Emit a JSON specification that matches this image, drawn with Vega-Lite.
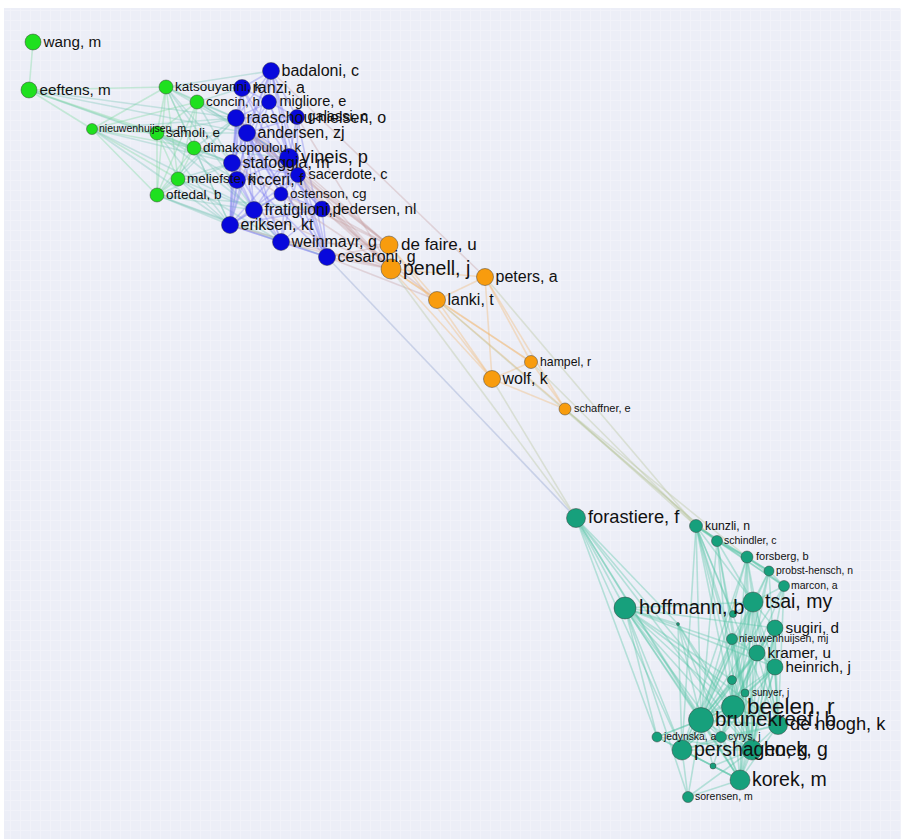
{
  "$schema": "https://vega.github.io/schema/vega-lite/v6.json",
  "width": 902,
  "height": 839,
  "autosize": {"type": "fit", "contains": "padding"},
  "padding": {"left": 4, "top": 8, "right": 2, "bottom": 0},
  "background": "white",
  "config": {"view": {"fill": "#eceef7", "stroke": null}},
  "resolve": {"scale": {"size": "independent"}},
  "datasets": {
    "nodes": [
      {"id": "wang", "label": "wang, m", "c": "g", "x": 33, "y": 42, "w": 16},
      {"id": "eeft", "label": "eeftens, m", "c": "g", "x": 29, "y": 90, "w": 16},
      {"id": "kats", "label": "katsouyanni, k", "c": "g", "x": 166, "y": 87, "w": 14},
      {"id": "conc", "label": "concin, h", "c": "g", "x": 197, "y": 102, "w": 14},
      {"id": "nieum", "label": "nieuwenhuijsen, m", "c": "g", "x": 92, "y": 129, "w": 11},
      {"id": "samo", "label": "samoli, e", "c": "g", "x": 157, "y": 133, "w": 14},
      {"id": "dima", "label": "dimakopoulou, k", "c": "g", "x": 194, "y": 148, "w": 14},
      {"id": "meli", "label": "meliefste, k", "c": "g", "x": 178, "y": 179, "w": 14},
      {"id": "ofte", "label": "oftedal, b", "c": "g", "x": 157, "y": 195, "w": 14},
      {"id": "bada", "label": "badaloni, c", "c": "b", "x": 271, "y": 71, "w": 17},
      {"id": "ranz", "label": "ranzi, a", "c": "b", "x": 242, "y": 88, "w": 17},
      {"id": "migl", "label": "migliore, e", "c": "b", "x": 269, "y": 102, "w": 15},
      {"id": "raas", "label": "raaschou-nielsen, o", "c": "b", "x": 236, "y": 118, "w": 17},
      {"id": "gala", "label": "galassi, c", "c": "b", "x": 297, "y": 117, "w": 15},
      {"id": "ande", "label": "andersen, zj", "c": "b", "x": 247, "y": 133, "w": 17},
      {"id": "stfg", "label": "stafoggia, m", "c": "b", "x": 232, "y": 163, "w": 17},
      {"id": "vine", "label": "vineis, p", "c": "b", "x": 289, "y": 158, "w": 19},
      {"id": "ricc", "label": "ricceri, f", "c": "b", "x": 237, "y": 180, "w": 17},
      {"id": "sace", "label": "sacerdote, c", "c": "b", "x": 298, "y": 175, "w": 15},
      {"id": "oste", "label": "ostenson, cg", "c": "b", "x": 281, "y": 194, "w": 14},
      {"id": "frat", "label": "fratiglioni, l", "c": "b", "x": 254, "y": 210, "w": 17},
      {"id": "pede", "label": "pedersen, nl", "c": "b", "x": 322, "y": 209, "w": 16},
      {"id": "erik", "label": "eriksen, kt", "c": "b", "x": 230, "y": 225, "w": 17},
      {"id": "wein", "label": "weinmayr, g", "c": "b", "x": 281, "y": 242, "w": 17},
      {"id": "cesa", "label": "cesaroni, g", "c": "b", "x": 327, "y": 257, "w": 17},
      {"id": "defa", "label": "de faire, u", "c": "o", "x": 389, "y": 245, "w": 18},
      {"id": "pene", "label": "penell, j", "c": "o", "x": 391, "y": 269, "w": 20},
      {"id": "pete", "label": "peters, a", "c": "o", "x": 485, "y": 277, "w": 17},
      {"id": "lank", "label": "lanki, t", "c": "o", "x": 437, "y": 300, "w": 17},
      {"id": "hamp", "label": "hampel, r", "c": "o", "x": 531, "y": 362, "w": 13},
      {"id": "wolf", "label": "wolf, k", "c": "o", "x": 492, "y": 379, "w": 17},
      {"id": "scha", "label": "schaffner, e", "c": "o", "x": 565, "y": 409, "w": 12},
      {"id": "fora", "label": "forastiere, f", "c": "t", "x": 576, "y": 518, "w": 19},
      {"id": "kunz", "label": "kunzli, n", "c": "t", "x": 696, "y": 526, "w": 13},
      {"id": "schi", "label": "schindler, c", "c": "t", "x": 717, "y": 541, "w": 11},
      {"id": "fors", "label": "forsberg, b", "c": "t", "x": 747, "y": 557, "w": 12},
      {"id": "prob", "label": "probst-hensch, n", "c": "t", "x": 769, "y": 571, "w": 10},
      {"id": "marc", "label": "marcon, a", "c": "t", "x": 784, "y": 586, "w": 11},
      {"id": "tsai", "label": "tsai, my", "c": "t", "x": 753, "y": 602, "w": 20},
      {"id": "hoff", "label": "hoffmann, b", "c": "t", "x": 625, "y": 608, "w": 22},
      {"id": "t1", "label": "", "c": "t", "x": 733, "y": 614, "w": 7},
      {"id": "t2", "label": "", "c": "t", "x": 678, "y": 624, "w": 3},
      {"id": "sugi", "label": "sugiri, d", "c": "t", "x": 775, "y": 628, "w": 16},
      {"id": "nimj", "label": "nieuwenhuijsen, mj", "c": "t", "x": 732, "y": 639, "w": 11},
      {"id": "kram", "label": "kramer, u", "c": "t", "x": 757, "y": 653, "w": 16},
      {"id": "hein", "label": "heinrich, j", "c": "t", "x": 775, "y": 667, "w": 16},
      {"id": "t3", "label": "", "c": "t", "x": 732, "y": 680, "w": 9},
      {"id": "suny", "label": "sunyer, j", "c": "t", "x": 745, "y": 693, "w": 8},
      {"id": "beel", "label": "beelen, r", "c": "t", "x": 733, "y": 707, "w": 23},
      {"id": "brun", "label": "brunekreef, b", "c": "t", "x": 701, "y": 720, "w": 25},
      {"id": "hoog", "label": "de hoogh, k", "c": "t", "x": 778, "y": 725, "w": 19},
      {"id": "jedy", "label": "jedynska, a", "c": "t", "x": 657, "y": 737, "w": 10},
      {"id": "cyry", "label": "cyrys, j", "c": "t", "x": 721, "y": 737, "w": 11},
      {"id": "pers", "label": "pershagen, g", "c": "t", "x": 682, "y": 750, "w": 20},
      {"id": "hoek", "label": "hoek, g", "c": "t", "x": 752, "y": 750, "w": 20},
      {"id": "t4", "label": "", "c": "t", "x": 713, "y": 766, "w": 6},
      {"id": "kore", "label": "korek, m", "c": "t", "x": 740, "y": 780, "w": 20},
      {"id": "sore", "label": "sorensen, m", "c": "t", "x": 688, "y": 797, "w": 11}
    ],
    "edges": [
      {"s": "wang", "t": "eeft", "g": "g"}, {"s": "kats", "t": "conc", "g": "g"}, {"s": "kats", "t": "samo", "g": "g"}, {"s": "kats", "t": "dima", "g": "g"}, {"s": "kats", "t": "meli", "g": "g"}, {"s": "kats", "t": "ofte", "g": "g"}, {"s": "conc", "t": "samo", "g": "g"}, {"s": "conc", "t": "dima", "g": "g"}, {"s": "conc", "t": "meli", "g": "g"}, {"s": "conc", "t": "ofte", "g": "g"}, {"s": "samo", "t": "dima", "g": "g"}, {"s": "samo", "t": "meli", "g": "g"}, {"s": "samo", "t": "ofte", "g": "g"}, {"s": "dima", "t": "meli", "g": "g"}, {"s": "dima", "t": "ofte", "g": "g"}, {"s": "meli", "t": "ofte", "g": "g"}, {"s": "nieum", "t": "kats", "g": "g"}, {"s": "nieum", "t": "conc", "g": "g"}, {"s": "nieum", "t": "samo", "g": "g"}, {"s": "nieum", "t": "dima", "g": "g"}, {"s": "nieum", "t": "meli", "g": "g"}, {"s": "nieum", "t": "ofte", "g": "g"}, {"s": "eeft", "t": "nieum", "g": "g"}, {"s": "eeft", "t": "kats", "g": "g"}, {"s": "eeft", "t": "samo", "g": "g"}, {"s": "eeft", "t": "dima", "g": "g"},
      {"s": "eeft", "t": "raas", "g": "gb"}, {"s": "eeft", "t": "stfg", "g": "gb"}, {"s": "eeft", "t": "ande", "g": "gb"}, {"s": "nieum", "t": "raas", "g": "gb"}, {"s": "nieum", "t": "stfg", "g": "gb"}, {"s": "nieum", "t": "erik", "g": "gb"}, {"s": "nieum", "t": "frat", "g": "gb"}, {"s": "kats", "t": "raas", "g": "gb"}, {"s": "kats", "t": "bada", "g": "gb"}, {"s": "kats", "t": "ranz", "g": "gb"}, {"s": "kats", "t": "stfg", "g": "gb"}, {"s": "kats", "t": "vine", "g": "gb"}, {"s": "kats", "t": "erik", "g": "gb"}, {"s": "kats", "t": "frat", "g": "gb"}, {"s": "conc", "t": "ranz", "g": "gb"}, {"s": "conc", "t": "raas", "g": "gb"}, {"s": "conc", "t": "ande", "g": "gb"}, {"s": "conc", "t": "vine", "g": "gb"}, {"s": "conc", "t": "stfg", "g": "gb"}, {"s": "samo", "t": "raas", "g": "gb"}, {"s": "samo", "t": "stfg", "g": "gb"}, {"s": "samo", "t": "erik", "g": "gb"}, {"s": "samo", "t": "ricc", "g": "gb"}, {"s": "samo", "t": "frat", "g": "gb"}, {"s": "samo", "t": "ande", "g": "gb"}, {"s": "dima", "t": "raas", "g": "gb"}, {"s": "dima", "t": "stfg", "g": "gb"}, {"s": "dima", "t": "vine", "g": "gb"}, {"s": "dima", "t": "erik", "g": "gb"}, {"s": "dima", "t": "wein", "g": "gb"}, {"s": "meli", "t": "raas", "g": "gb"}, {"s": "meli", "t": "stfg", "g": "gb"}, {"s": "meli", "t": "erik", "g": "gb"}, {"s": "meli", "t": "frat", "g": "gb"}, {"s": "meli", "t": "ricc", "g": "gb"}, {"s": "meli", "t": "wein", "g": "gb"}, {"s": "ofte", "t": "raas", "g": "gb"}, {"s": "ofte", "t": "stfg", "g": "gb"}, {"s": "ofte", "t": "erik", "g": "gb"}, {"s": "ofte", "t": "frat", "g": "gb"}, {"s": "ofte", "t": "wein", "g": "gb"}, {"s": "ofte", "t": "cesa", "g": "gb"}, {"s": "ofte", "t": "pede", "g": "gb"},
      {"s": "bada", "t": "ranz", "g": "b"}, {"s": "bada", "t": "migl", "g": "b"}, {"s": "bada", "t": "raas", "g": "b"}, {"s": "bada", "t": "gala", "g": "b"}, {"s": "bada", "t": "ande", "g": "b"}, {"s": "bada", "t": "stfg", "g": "b"}, {"s": "bada", "t": "vine", "g": "b"}, {"s": "bada", "t": "sace", "g": "b"}, {"s": "bada", "t": "erik", "g": "b"}, {"s": "bada", "t": "cesa", "g": "b"}, {"s": "ranz", "t": "migl", "g": "b"}, {"s": "ranz", "t": "raas", "g": "b"}, {"s": "ranz", "t": "stfg", "g": "b"}, {"s": "ranz", "t": "ande", "g": "b"}, {"s": "ranz", "t": "vine", "g": "b"}, {"s": "ranz", "t": "erik", "g": "b"}, {"s": "ranz", "t": "cesa", "g": "b"}, {"s": "migl", "t": "raas", "g": "b"}, {"s": "migl", "t": "gala", "g": "b"}, {"s": "migl", "t": "ande", "g": "b"}, {"s": "migl", "t": "vine", "g": "b"}, {"s": "migl", "t": "sace", "g": "b"}, {"s": "migl", "t": "erik", "g": "b"}, {"s": "raas", "t": "gala", "g": "b"}, {"s": "raas", "t": "ande", "g": "b"}, {"s": "raas", "t": "stfg", "g": "b"}, {"s": "raas", "t": "vine", "g": "b"}, {"s": "raas", "t": "ricc", "g": "b"}, {"s": "raas", "t": "sace", "g": "b"}, {"s": "raas", "t": "oste", "g": "b"}, {"s": "raas", "t": "frat", "g": "b"}, {"s": "raas", "t": "pede", "g": "b"}, {"s": "raas", "t": "erik", "g": "b"}, {"s": "raas", "t": "wein", "g": "b"}, {"s": "raas", "t": "cesa", "g": "b"}, {"s": "gala", "t": "ande", "g": "b"}, {"s": "gala", "t": "vine", "g": "b"}, {"s": "gala", "t": "sace", "g": "b"}, {"s": "gala", "t": "cesa", "g": "b"}, {"s": "ande", "t": "stfg", "g": "b"}, {"s": "ande", "t": "vine", "g": "b"}, {"s": "ande", "t": "ricc", "g": "b"}, {"s": "ande", "t": "sace", "g": "b"}, {"s": "ande", "t": "oste", "g": "b"}, {"s": "ande", "t": "frat", "g": "b"}, {"s": "ande", "t": "pede", "g": "b"}, {"s": "ande", "t": "erik", "g": "b"}, {"s": "ande", "t": "wein", "g": "b"}, {"s": "ande", "t": "cesa", "g": "b"}, {"s": "stfg", "t": "vine", "g": "b"}, {"s": "stfg", "t": "ricc", "g": "b"}, {"s": "stfg", "t": "sace", "g": "b"}, {"s": "stfg", "t": "frat", "g": "b"}, {"s": "stfg", "t": "erik", "g": "b"}, {"s": "stfg", "t": "wein", "g": "b"}, {"s": "stfg", "t": "cesa", "g": "b"}, {"s": "vine", "t": "ricc", "g": "b"}, {"s": "vine", "t": "sace", "g": "b"}, {"s": "vine", "t": "oste", "g": "b"}, {"s": "vine", "t": "frat", "g": "b"}, {"s": "vine", "t": "pede", "g": "b"}, {"s": "vine", "t": "erik", "g": "b"}, {"s": "vine", "t": "wein", "g": "b"}, {"s": "vine", "t": "cesa", "g": "b"}, {"s": "ricc", "t": "sace", "g": "b"}, {"s": "ricc", "t": "erik", "g": "b"}, {"s": "ricc", "t": "frat", "g": "b"}, {"s": "sace", "t": "oste", "g": "b"}, {"s": "sace", "t": "erik", "g": "b"}, {"s": "sace", "t": "wein", "g": "b"}, {"s": "sace", "t": "cesa", "g": "b"}, {"s": "oste", "t": "frat", "g": "b"}, {"s": "oste", "t": "pede", "g": "b"}, {"s": "oste", "t": "erik", "g": "b"}, {"s": "frat", "t": "pede", "g": "b"}, {"s": "frat", "t": "erik", "g": "b"}, {"s": "frat", "t": "wein", "g": "b"}, {"s": "pede", "t": "erik", "g": "b"}, {"s": "pede", "t": "wein", "g": "b"}, {"s": "pede", "t": "cesa", "g": "b"}, {"s": "erik", "t": "wein", "g": "b"}, {"s": "erik", "t": "cesa", "g": "b"}, {"s": "wein", "t": "cesa", "g": "b"},
      {"s": "pede", "t": "defa", "g": "bo"}, {"s": "pede", "t": "pene", "g": "bo"}, {"s": "pede", "t": "lank", "g": "bo"}, {"s": "cesa", "t": "defa", "g": "bo"}, {"s": "cesa", "t": "pene", "g": "bo"}, {"s": "cesa", "t": "lank", "g": "bo"}, {"s": "wein", "t": "pene", "g": "bo"}, {"s": "wein", "t": "defa", "g": "bo"}, {"s": "vine", "t": "pene", "g": "bo"}, {"s": "vine", "t": "defa", "g": "bo"}, {"s": "sace", "t": "defa", "g": "bo"}, {"s": "sace", "t": "pene", "g": "bo"}, {"s": "frat", "t": "pene", "g": "bo"}, {"s": "raas", "t": "pene", "g": "bo"}, {"s": "raas", "t": "defa", "g": "bo"}, {"s": "ande", "t": "defa", "g": "bo"}, {"s": "ande", "t": "pene", "g": "bo"}, {"s": "erik", "t": "pene", "g": "bo"}, {"s": "oste", "t": "defa", "g": "bo"}, {"s": "stfg", "t": "pene", "g": "bo"}, {"s": "gala", "t": "pene", "g": "bo"}, {"s": "bada", "t": "pete", "g": "bo"},
      {"s": "defa", "t": "pene", "g": "o"}, {"s": "defa", "t": "lank", "g": "o"}, {"s": "pene", "t": "lank", "g": "o"}, {"s": "pene", "t": "pete", "g": "o"}, {"s": "pene", "t": "wolf", "g": "o"}, {"s": "lank", "t": "wolf", "g": "o"}, {"s": "lank", "t": "hamp", "g": "o"}, {"s": "lank", "t": "pete", "g": "o"}, {"s": "pete", "t": "hamp", "g": "o"}, {"s": "pete", "t": "wolf", "g": "o"}, {"s": "pete", "t": "scha", "g": "o"}, {"s": "wolf", "t": "hamp", "g": "o"}, {"s": "wolf", "t": "scha", "g": "o"}, {"s": "hamp", "t": "scha", "g": "o"}, {"s": "lank", "t": "scha", "g": "o"}, {"s": "defa", "t": "wolf", "g": "o"}, {"s": "pene", "t": "hamp", "g": "o"},
      {"s": "scha", "t": "kunz", "g": "ot"}, {"s": "scha", "t": "schi", "g": "ot"}, {"s": "scha", "t": "fors", "g": "ot"}, {"s": "hamp", "t": "kunz", "g": "ot"}, {"s": "wolf", "t": "fora", "g": "ot"}, {"s": "pete", "t": "kunz", "g": "ot"}, {"s": "lank", "t": "schi", "g": "ot"}, {"s": "pene", "t": "fora", "g": "ot"},
      {"s": "cesa", "t": "fora", "g": "bt"},
      {"s": "kunz", "t": "schi", "g": "t"}, {"s": "kunz", "t": "fors", "g": "t"}, {"s": "kunz", "t": "prob", "g": "t"}, {"s": "kunz", "t": "marc", "g": "t"}, {"s": "kunz", "t": "tsai", "g": "t"}, {"s": "kunz", "t": "brun", "g": "t"}, {"s": "kunz", "t": "beel", "g": "t"}, {"s": "kunz", "t": "hoek", "g": "t"}, {"s": "kunz", "t": "nimj", "g": "t"}, {"s": "kunz", "t": "suny", "g": "t"}, {"s": "kunz", "t": "hoog", "g": "t"}, {"s": "kunz", "t": "pers", "g": "t"}, {"s": "kunz", "t": "t1", "g": "t"},
      {"s": "schi", "t": "fors", "g": "t"}, {"s": "schi", "t": "prob", "g": "t"}, {"s": "schi", "t": "tsai", "g": "t"}, {"s": "schi", "t": "beel", "g": "t"}, {"s": "schi", "t": "brun", "g": "t"}, {"s": "schi", "t": "hoek", "g": "t"}, {"s": "schi", "t": "marc", "g": "t"}, {"s": "schi", "t": "suny", "g": "t"},
      {"s": "fors", "t": "prob", "g": "t"}, {"s": "fors", "t": "marc", "g": "t"}, {"s": "fors", "t": "tsai", "g": "t"}, {"s": "fors", "t": "beel", "g": "t"}, {"s": "fors", "t": "brun", "g": "t"}, {"s": "fors", "t": "hoek", "g": "t"}, {"s": "fors", "t": "pers", "g": "t"}, {"s": "fors", "t": "hoog", "g": "t"}, {"s": "fors", "t": "kore", "g": "t"},
      {"s": "prob", "t": "marc", "g": "t"}, {"s": "prob", "t": "tsai", "g": "t"}, {"s": "prob", "t": "beel", "g": "t"}, {"s": "prob", "t": "brun", "g": "t"}, {"s": "prob", "t": "suny", "g": "t"}, {"s": "prob", "t": "hoog", "g": "t"},
      {"s": "marc", "t": "tsai", "g": "t"}, {"s": "marc", "t": "beel", "g": "t"}, {"s": "marc", "t": "brun", "g": "t"}, {"s": "marc", "t": "hoek", "g": "t"}, {"s": "marc", "t": "hoog", "g": "t"},
      {"s": "tsai", "t": "sugi", "g": "t"}, {"s": "tsai", "t": "kram", "g": "t"}, {"s": "tsai", "t": "hein", "g": "t"}, {"s": "tsai", "t": "beel", "g": "t"}, {"s": "tsai", "t": "brun", "g": "t"}, {"s": "tsai", "t": "hoog", "g": "t"}, {"s": "tsai", "t": "hoek", "g": "t"}, {"s": "tsai", "t": "pers", "g": "t"}, {"s": "tsai", "t": "kore", "g": "t"}, {"s": "tsai", "t": "cyry", "g": "t"}, {"s": "tsai", "t": "t1", "g": "t"}, {"s": "tsai", "t": "nimj", "g": "t"}, {"s": "tsai", "t": "t3", "g": "t"},
      {"s": "hoff", "t": "tsai", "g": "t"}, {"s": "hoff", "t": "sugi", "g": "t"}, {"s": "hoff", "t": "kram", "g": "t"}, {"s": "hoff", "t": "hein", "g": "t"}, {"s": "hoff", "t": "beel", "g": "t"}, {"s": "hoff", "t": "brun", "g": "t"}, {"s": "hoff", "t": "hoog", "g": "t"}, {"s": "hoff", "t": "hoek", "g": "t"}, {"s": "hoff", "t": "pers", "g": "t"}, {"s": "hoff", "t": "kore", "g": "t"}, {"s": "hoff", "t": "t2", "g": "t"}, {"s": "hoff", "t": "jedy", "g": "t"}, {"s": "hoff", "t": "cyry", "g": "t"}, {"s": "hoff", "t": "fora", "g": "t"}, {"s": "hoff", "t": "sore", "g": "t"}, {"s": "hoff", "t": "t3", "g": "t"},
      {"s": "sugi", "t": "kram", "g": "t"}, {"s": "sugi", "t": "hein", "g": "t"}, {"s": "sugi", "t": "beel", "g": "t"}, {"s": "sugi", "t": "brun", "g": "t"}, {"s": "sugi", "t": "hoog", "g": "t"}, {"s": "sugi", "t": "hoek", "g": "t"}, {"s": "sugi", "t": "pers", "g": "t"}, {"s": "sugi", "t": "kore", "g": "t"},
      {"s": "nimj", "t": "beel", "g": "t"}, {"s": "nimj", "t": "brun", "g": "t"}, {"s": "nimj", "t": "hoek", "g": "t"}, {"s": "nimj", "t": "pers", "g": "t"}, {"s": "nimj", "t": "kram", "g": "t"}, {"s": "nimj", "t": "suny", "g": "t"},
      {"s": "kram", "t": "hein", "g": "t"}, {"s": "kram", "t": "beel", "g": "t"}, {"s": "kram", "t": "brun", "g": "t"}, {"s": "kram", "t": "hoog", "g": "t"}, {"s": "kram", "t": "hoek", "g": "t"}, {"s": "kram", "t": "pers", "g": "t"}, {"s": "kram", "t": "kore", "g": "t"}, {"s": "kram", "t": "cyry", "g": "t"},
      {"s": "hein", "t": "beel", "g": "t"}, {"s": "hein", "t": "brun", "g": "t"}, {"s": "hein", "t": "hoog", "g": "t"}, {"s": "hein", "t": "hoek", "g": "t"}, {"s": "hein", "t": "pers", "g": "t"}, {"s": "hein", "t": "kore", "g": "t"}, {"s": "hein", "t": "cyry", "g": "t"},
      {"s": "t3", "t": "beel", "g": "t"}, {"s": "t3", "t": "brun", "g": "t"}, {"s": "t3", "t": "hoek", "g": "t"},
      {"s": "suny", "t": "beel", "g": "t"}, {"s": "suny", "t": "brun", "g": "t"}, {"s": "suny", "t": "hoek", "g": "t"}, {"s": "suny", "t": "hoog", "g": "t"},
      {"s": "beel", "t": "brun", "g": "t"}, {"s": "beel", "t": "hoog", "g": "t"}, {"s": "beel", "t": "hoek", "g": "t"}, {"s": "beel", "t": "pers", "g": "t"}, {"s": "beel", "t": "kore", "g": "t"}, {"s": "beel", "t": "cyry", "g": "t"}, {"s": "beel", "t": "jedy", "g": "t"}, {"s": "beel", "t": "t4", "g": "t"},
      {"s": "brun", "t": "hoog", "g": "t"}, {"s": "brun", "t": "hoek", "g": "t"}, {"s": "brun", "t": "pers", "g": "t"}, {"s": "brun", "t": "kore", "g": "t"}, {"s": "brun", "t": "cyry", "g": "t"}, {"s": "brun", "t": "jedy", "g": "t"}, {"s": "brun", "t": "sore", "g": "t"}, {"s": "brun", "t": "t4", "g": "t"},
      {"s": "hoog", "t": "hoek", "g": "t"}, {"s": "hoog", "t": "pers", "g": "t"}, {"s": "hoog", "t": "kore", "g": "t"}, {"s": "hoog", "t": "cyry", "g": "t"},
      {"s": "hoek", "t": "pers", "g": "t"}, {"s": "hoek", "t": "kore", "g": "t"}, {"s": "hoek", "t": "cyry", "g": "t"}, {"s": "hoek", "t": "sore", "g": "t"}, {"s": "hoek", "t": "t4", "g": "t"},
      {"s": "pers", "t": "kore", "g": "t"}, {"s": "pers", "t": "cyry", "g": "t"}, {"s": "pers", "t": "jedy", "g": "t"}, {"s": "pers", "t": "sore", "g": "t"}, {"s": "pers", "t": "t4", "g": "t"},
      {"s": "kore", "t": "cyry", "g": "t"}, {"s": "kore", "t": "sore", "g": "t"}, {"s": "kore", "t": "t4", "g": "t"},
      {"s": "fora", "t": "beel", "g": "t"}, {"s": "fora", "t": "brun", "g": "t"}, {"s": "fora", "t": "hoek", "g": "t"}, {"s": "fora", "t": "pers", "g": "t"}, {"s": "fora", "t": "kore", "g": "t"}, {"s": "fora", "t": "jedy", "g": "t"}, {"s": "fora", "t": "t2", "g": "t"},
      {"s": "t2", "t": "beel", "g": "t"}, {"s": "t2", "t": "brun", "g": "t"}, {"s": "t2", "t": "pers", "g": "t"}, {"s": "t2", "t": "hoek", "g": "t"}, {"s": "t2", "t": "kore", "g": "t"},
      {"s": "jedy", "t": "hoek", "g": "t"}, {"s": "jedy", "t": "kore", "g": "t"}
    ]
  },
  "layer": [
    {
      "data": {"name": "edges"},
      "transform": [
        {"lookup": "s", "from": {"data": {"name": "nodes"}, "key": "id", "fields": ["x", "y"]}, "as": ["x1", "y1"]},
        {"lookup": "t", "from": {"data": {"name": "nodes"}, "key": "id", "fields": ["x", "y"]}, "as": ["xb", "yb"]}
      ],
      "mark": {"type": "rule", "strokeWidth": 1.6, "opacity": 0.38},
      "encoding": {
        "x": {"field": "x1", "type": "quantitative", "scale": {"domain": [4, 900], "nice": false, "zero": false}, "axis": {"grid": true, "gridColor": "#f1f2f9", "gridWidth": 1, "tickCount": 75, "labels": false, "ticks": false, "domain": false, "title": null}},
        "y": {"field": "y1", "type": "quantitative", "scale": {"domain": [8, 839], "nice": false, "zero": false, "reverse": true}, "axis": {"grid": true, "gridColor": "#f1f2f9", "gridWidth": 1, "tickCount": 70, "labels": false, "ticks": false, "domain": false, "title": null}},
        "x2": {"field": "xb"},
        "y2": {"field": "yb"},
        "color": {"field": "g", "type": "nominal", "legend": null, "scale": {"domain": ["g", "gb", "b", "bo", "o", "ot", "bt", "t"], "range": ["#7ed9a0", "#7fc8b8", "#7f7fee", "#c9a3a6", "#f2b870", "#b9c59a", "#8fa0cc", "#56c4a6"]}}
      }
    },
    {
      "data": {"name": "nodes"},
      "mark": {"type": "point", "shape": "circle", "filled": true, "opacity": 1, "stroke": "#3a3a3a", "strokeWidth": 0.8, "strokeOpacity": 0.6},
      "encoding": {
        "x": {"field": "x", "type": "quantitative"},
        "y": {"field": "y", "type": "quantitative"},
        "size": {"field": "w", "type": "quantitative", "legend": null, "scale": {"type": "pow", "exponent": 2, "domain": [0, 25], "range": [0, 625]}},
        "fill": {"field": "c", "type": "nominal", "legend": null, "scale": {"domain": ["g", "b", "o", "t"], "range": ["#1fe01f", "#0808dc", "#f89c0e", "#17a07c"]}}
      }
    },
    {
      "data": {"name": "nodes"},
      "transform": [{"filter": "datum.w <= 11"}],
      "mark": {"type": "text", "align": "left", "baseline": "middle", "font": "Liberation Sans", "color": "#111111", "dx": 7},
      "encoding": {
        "x": {"field": "x", "type": "quantitative"},
        "y": {"field": "y", "type": "quantitative"},
        "text": {"field": "label"},
        "size": {"field": "w", "type": "quantitative", "legend": null, "scale": {"domain": [8, 11], "range": [10, 10.5]}}
      }
    },
    {
      "data": {"name": "nodes"},
      "transform": [{"filter": "datum.w > 11 && datum.w <= 14"}],
      "mark": {"type": "text", "align": "left", "baseline": "middle", "font": "Liberation Sans", "color": "#111111", "dx": 9},
      "encoding": {
        "x": {"field": "x", "type": "quantitative"},
        "y": {"field": "y", "type": "quantitative"},
        "text": {"field": "label"},
        "size": {"field": "w", "type": "quantitative", "legend": null, "scale": {"domain": [12, 14], "range": [11, 13.5]}}
      }
    },
    {
      "data": {"name": "nodes"},
      "transform": [{"filter": "datum.w > 14 && datum.w <= 17"}],
      "mark": {"type": "text", "align": "left", "baseline": "middle", "font": "Liberation Sans", "color": "#111111", "dx": 10.5},
      "encoding": {
        "x": {"field": "x", "type": "quantitative"},
        "y": {"field": "y", "type": "quantitative"},
        "text": {"field": "label"},
        "size": {"field": "w", "type": "quantitative", "legend": null, "scale": {"domain": [15, 17], "range": [14.5, 16]}}
      }
    },
    {
      "data": {"name": "nodes"},
      "transform": [{"filter": "datum.w > 17 && datum.w <= 20"}],
      "mark": {"type": "text", "align": "left", "baseline": "middle", "font": "Liberation Sans", "color": "#111111", "dx": 12},
      "encoding": {
        "x": {"field": "x", "type": "quantitative"},
        "y": {"field": "y", "type": "quantitative"},
        "text": {"field": "label"},
        "size": {"field": "w", "type": "quantitative", "legend": null, "scale": {"domain": [18, 20], "range": [17, 19.5]}}
      }
    },
    {
      "data": {"name": "nodes"},
      "transform": [{"filter": "datum.w > 20"}],
      "mark": {"type": "text", "align": "left", "baseline": "middle", "font": "Liberation Sans", "color": "#111111", "dx": 14},
      "encoding": {
        "x": {"field": "x", "type": "quantitative"},
        "y": {"field": "y", "type": "quantitative"},
        "text": {"field": "label"},
        "size": {"field": "w", "type": "quantitative", "legend": null, "scale": {"domain": [22, 23, 25], "range": [20, 22.5, 20.5]}}
      }
    }
  ]
}
